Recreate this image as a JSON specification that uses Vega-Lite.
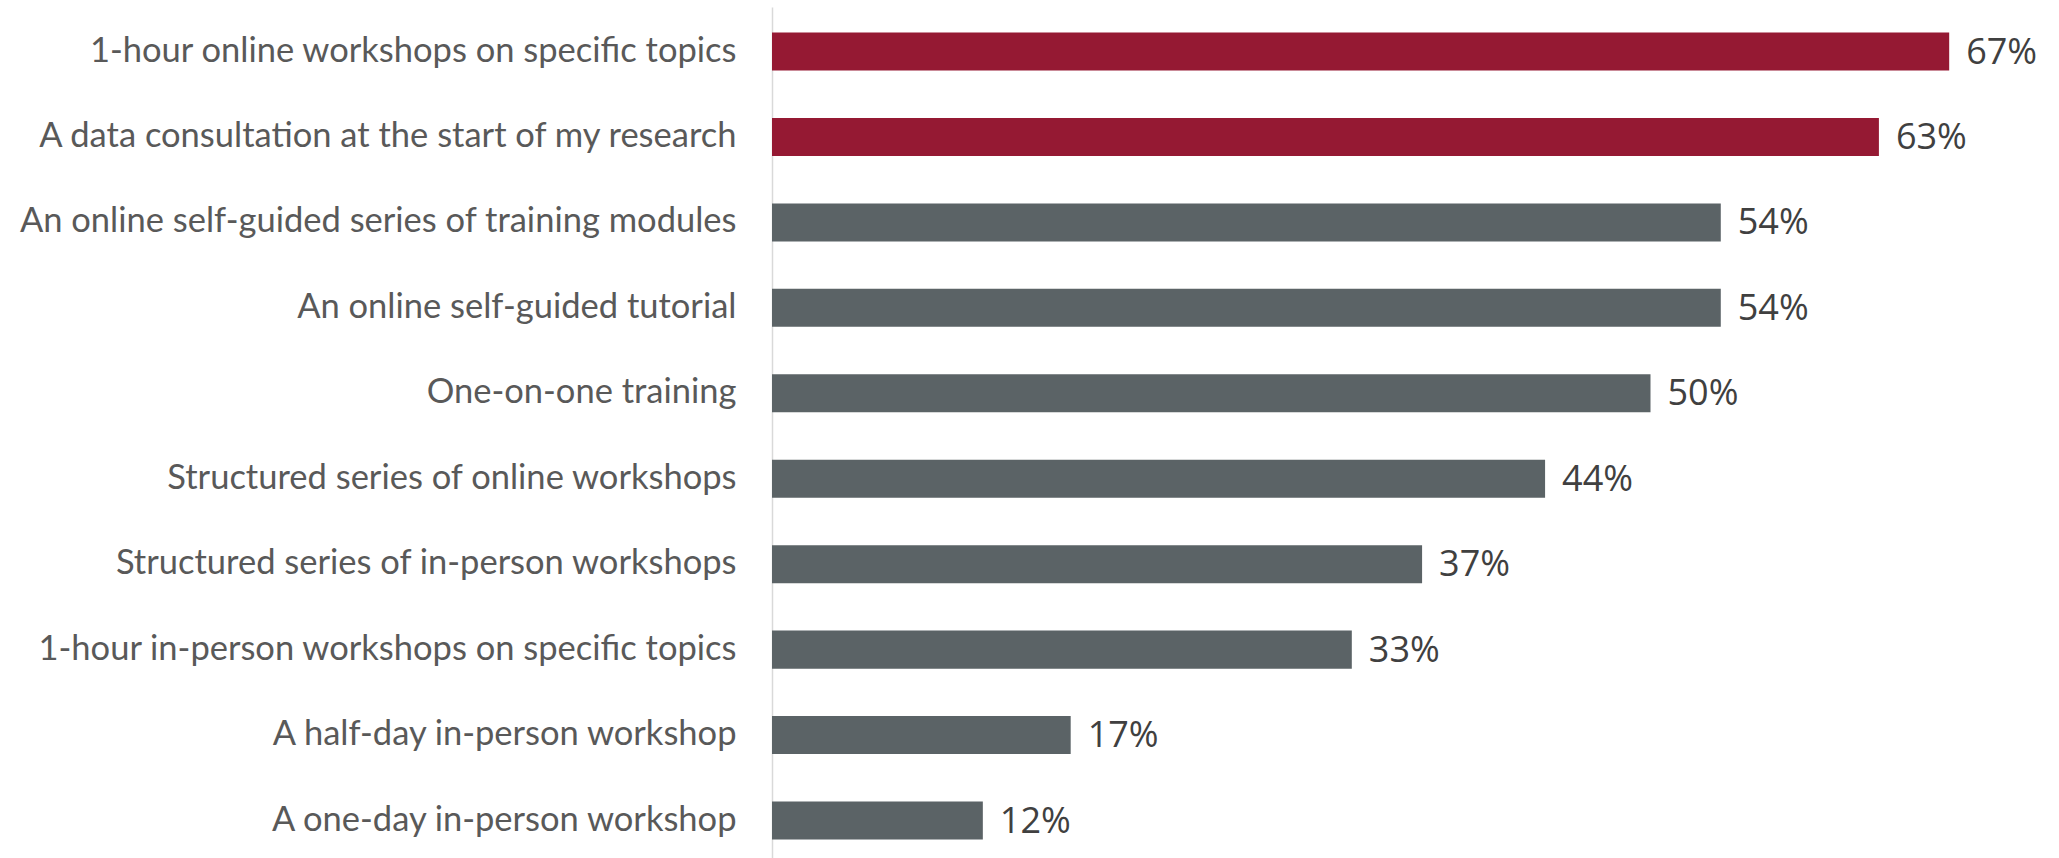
{
  "$schema": "https://vega.github.io/schema/vega-lite/v6.json",
  "autosize": {"type": "none"},
  "padding": {"left": 772, "top": 7, "right": 0, "bottom": 0},
  "width": 1287,
  "height": 851,
  "background": "white",
  "config": {"view": {"stroke": null}},
  "data": {
    "values": [
      {"item": "1-hour online workshops on specific topics", "share": 0.67, "highlight": "yes"},
      {"item": "A data consultation at the start of my research", "share": 0.63, "highlight": "yes"},
      {"item": "An online self-guided series of training modules", "share": 0.54, "highlight": "no"},
      {"item": "An online self-guided tutorial", "share": 0.54, "highlight": "no"},
      {"item": "One-on-one training", "share": 0.50, "highlight": "no"},
      {"item": "Structured series of online workshops", "share": 0.44, "highlight": "no"},
      {"item": "Structured series of in-person workshops", "share": 0.37, "highlight": "no"},
      {"item": "1-hour in-person workshops on specific topics", "share": 0.33, "highlight": "no"},
      {"item": "A half-day in-person workshop", "share": 0.17, "highlight": "no"},
      {"item": "A one-day in-person workshop", "share": 0.12, "highlight": "no"}
    ]
  },
  "encoding": {
    "y": {
      "field": "item",
      "type": "nominal",
      "sort": null,
      "scale": {"paddingInner": 0.555, "paddingOuter": 0.2575, "align": 0.58},
      "axis": {
        "title": null,
        "ticks": false,
        "domain": true,
        "domainColor": "#d9d9d9",
        "domainWidth": 1.5,
        "labelFont": "Lato",
        "labelFontSize": 34.5,
        "labelColor": "#595959",
        "labelPadding": 36,
        "labelLimit": 800
      }
    },
    "x": {
      "field": "share",
      "type": "quantitative",
      "scale": {"domain": [0, 0.7325], "nice": false, "zero": true},
      "axis": null
    }
  },
  "layer": [
    {
      "mark": {"type": "bar"},
      "encoding": {
        "color": {
          "field": "highlight",
          "type": "nominal",
          "scale": {"domain": ["yes", "no"], "range": ["#951933", "#5b6366"]},
          "legend": null
        }
      }
    },
    {
      "mark": {"type": "text", "align": "left", "baseline": "middle", "dx": 17, "dy": 1, "font": "Open Sans", "fontSize": 36, "color": "#404040"},
      "encoding": {
        "text": {"field": "share", "type": "quantitative", "format": ".0%"}
      }
    }
  ]
}
